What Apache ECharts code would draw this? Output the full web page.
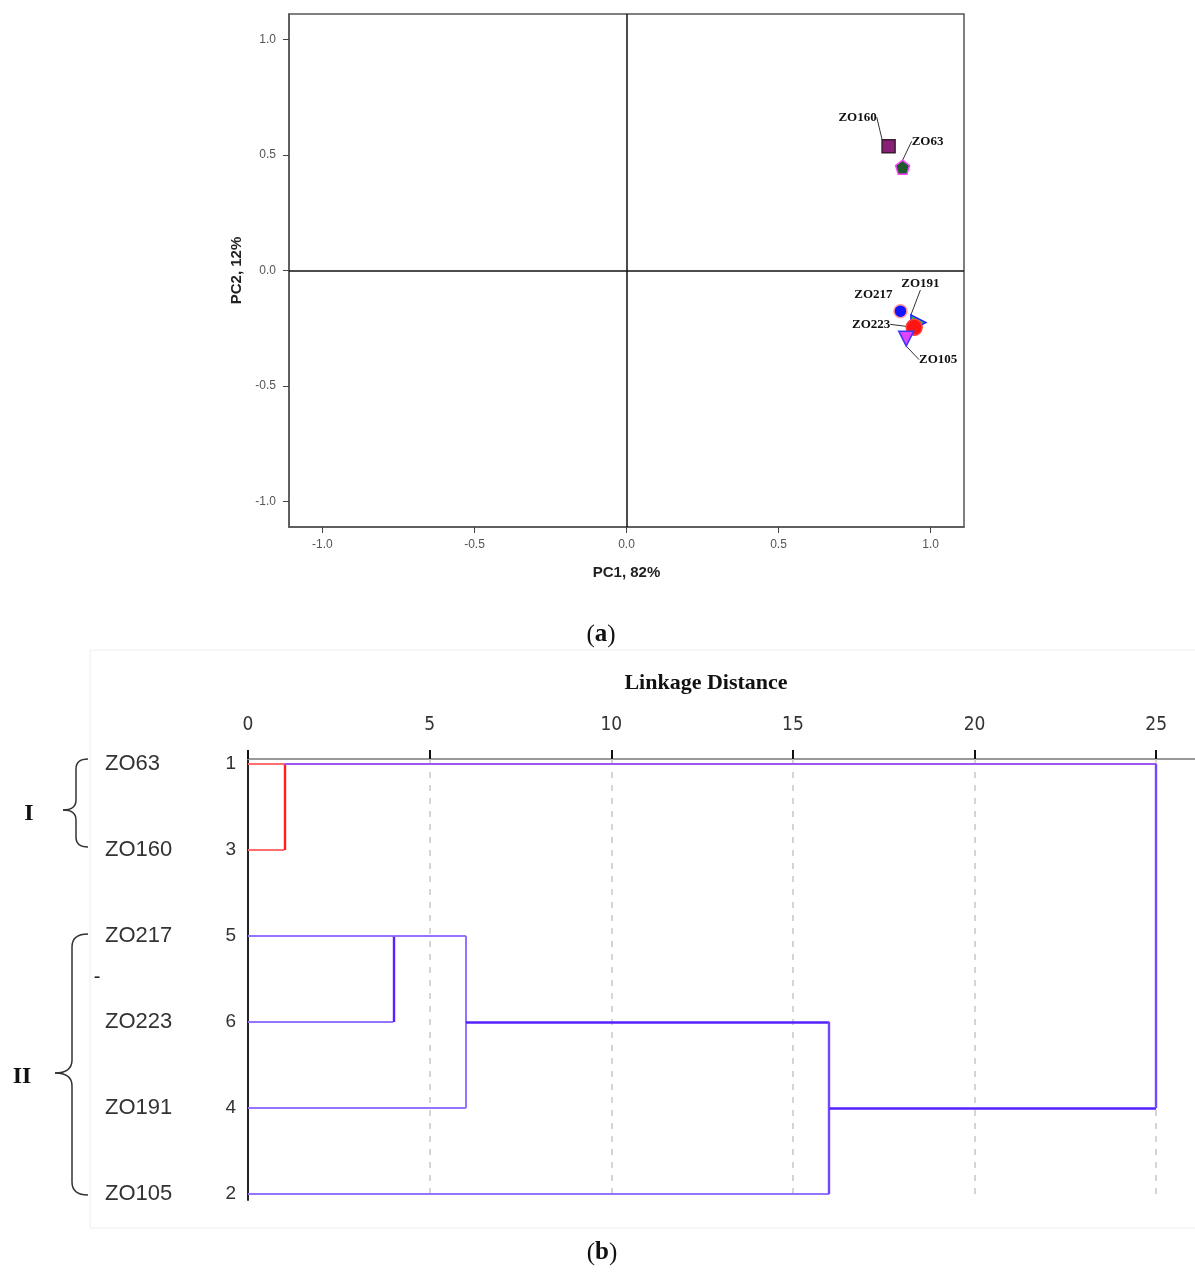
<!DOCTYPE html>
<html>
<head>
<meta charset="utf-8">
<script src="https://cdn.jsdelivr.net/npm/echarts@6/dist/echarts.min.js"></script>
<style>
  html, body { margin: 0; padding: 0; background: #fff; }
  #main { width: 1195px; height: 1272px; }
</style>
</head>
<body>
<div id="main"></div>
<script>
// (a) PCA scores
const pcNames = ['ZO160', 'ZO63', 'ZO217', 'ZO191', 'ZO223', 'ZO105']
const pc1 = [0.862, 0.908, 0.901, 0.960, 0.946, 0.920]
const pc2 = [0.538, 0.447, -0.176, -0.225, -0.246, -0.295]
const pcTicks = [-1, -0.5, 0, 0.5, 1]

// (b) dendrogram
const leafNames = ['ZO63', 'ZO160', 'ZO217', 'ZO223', 'ZO191', 'ZO105']
const leafIds = ['1', '3', '5', '6', '4', '2']
// node index: 0-5 leaves, 6+k = merge k
const mergeLeft = [0, 2, 7, 8, 6]
const mergeRight = [1, 3, 4, 5, 9]
const mergeDist = [1, 4, 6, 16, 25]
const mergeRow = [0, 2, 3, 4, null]
const distTicks = [0, 5, 10, 15, 20, 25]

// marker styles for the scatter (not data)
const pentagon = 'path://M0,-1 L0.951,-0.309 L0.588,0.809 L-0.588,0.809 L-0.951,-0.309 Z'
const markStyle = [
  { symbol: 'rect', size: 13, rotate: 0, color: '#8a1f78', border: '#3b1a33' },
  { symbol: pentagon, size: 14, rotate: 0, color: '#1d5a2c', border: '#ff44ff' },
  { symbol: 'circle', size: 13, rotate: 0, color: '#1414ff', border: '#ff9a9a' },
  { symbol: 'triangle', size: 15, rotate: -90, color: '#22c444', border: '#2222ff' },
  { symbol: 'circle', size: 16, rotate: 0, color: '#ff1414', border: '#ff4040' },
  { symbol: 'triangle', size: 15, rotate: 180, color: '#e044ff', border: '#3a3aff' }
]
const labelOffset = [[-31, -29], [25, -26], [-27, -17], [2, -39], [-43, -3], [32, 21]]

const lightRed = '#ff6e6e'
const red = '#ff1e1e'
const lightViolet = '#9474ff'
const strongViolet = '#5522ff'
const midViolet = '#7448ff'
const topPurple = '#a055f0'
const vColor = [red, strongViolet, lightViolet, midViolet, midViolet]
const hColor = (c) => {
  if (c < 6) return c < 2 ? lightRed : lightViolet
  return [topPurple, lightViolet, strongViolet, strongViolet][c - 6]
}

const nodeDist = (n) => n < 6 ? 0 : mergeDist[n - 6]
const nodeRow = (n) => n < 6 ? n : mergeRow[n - 6]

const segments = []
for (let k = 0; k < mergeDist.length; k++) {
  const d = mergeDist[k]
  const kids = [mergeLeft[k], mergeRight[k]]
  kids.forEach(c => {
    const strong = hColor(c) === strongViolet
    segments.push({
      coords: [[nodeDist(c), nodeRow(c)], [d, nodeRow(c)]],
      lineStyle: { color: hColor(c), width: strong ? 2.6 : 2, opacity: 1 }
    })
  })
  segments.push({
    coords: [[d, nodeRow(kids[0])], [d, nodeRow(kids[1])]],
    lineStyle: { color: vColor[k], width: vColor[k] === lightViolet ? 2 : 2.4, opacity: 1 }
  })
}

const scatterData = pcNames.map((n, i) => ({
  name: n,
  value: [pc1[i], pc2[i]],
  symbol: markStyle[i].symbol,
  symbolSize: markStyle[i].size,
  symbolRotate: markStyle[i].rotate,
  itemStyle: { color: markStyle[i].color, borderColor: markStyle[i].border, borderWidth: 1.5, opacity: 1 },
  labelLine: { show: n !== 'ZO217' }
}))

const rows = leafNames.map((_, i) => i)
const serif = 'Liberation Serif, Times New Roman, serif'
const sans = 'Liberation Sans, Arial, sans-serif'

// curly brace built from lines and quadratic curves
const braceStroke = { fill: 'none', stroke: '#333', lineWidth: 1.5 }
function brace(xEnd, xBar, xTip, yTop, yMid, yBot, r) {
  const q = (x1, y1, x2, y2, cx, cy) => ({
    type: 'bezierCurve', silent: true,
    shape: { x1: x1, y1: y1, x2: x2, y2: y2, cpx1: cx, cpy1: cy },
    style: braceStroke
  })
  const l = (x1, y1, x2, y2) => ({
    type: 'line', silent: true,
    shape: { x1: x1, y1: y1, x2: x2, y2: y2 },
    style: braceStroke
  })
  return [
    q(xEnd, yTop, xBar, yTop + r, xBar, yTop),
    l(xBar, yTop + r, xBar, yMid - r),
    q(xBar, yMid - r, xTip, yMid, xBar, yMid),
    q(xTip, yMid, xBar, yMid + r, xBar, yMid),
    l(xBar, yMid + r, xBar, yBot - r),
    q(xBar, yBot - r, xEnd, yBot, xBar, yBot)
  ]
}

const chart = echarts.init(document.getElementById('main'))
chart.setOption({
  animation: false,
  backgroundColor: '#fff',
  grid: [
    { left: 289, top: 14, width: 675, height: 513, show: true, borderColor: '#555', borderWidth: 1.5 },
    { left: 248, top: 759, right: 0, height: 441 }
  ],
  xAxis: [
    {
      gridIndex: 0, type: 'value', min: -1.11, max: 1.11,
      name: 'PC1, 82%', nameLocation: 'middle', nameGap: 38,
      nameTextStyle: { fontFamily: sans, fontWeight: 'bold', fontSize: 15, color: '#222' },
      axisLine: { onZero: false, lineStyle: { color: '#555', width: 1.5 } },
      axisTick: { customValues: pcTicks, length: 6, lineStyle: { color: '#444' } },
      axisLabel: { customValues: pcTicks, formatter: v => v.toFixed(1), color: '#555', fontSize: 12, fontFamily: sans, margin: 12 },
      splitLine: { show: false }
    },
    {
      gridIndex: 1, type: 'value', position: 'top', min: 0, max: 26.07,
      axisLine: { onZero: false, lineStyle: { color: '#999', width: 2 } },
      axisTick: { customValues: distTicks, length: 9, lineStyle: { color: '#111', width: 2 } },
      axisLabel: { customValues: distTicks, color: '#333', fontSize: 19, fontFamily: 'Liberation Sans Narrow, DejaVu Sans Condensed, Arial Narrow, sans-serif', margin: 24 },
      splitLine: { show: false }
    }
  ],
  yAxis: [
    {
      gridIndex: 0, type: 'value', min: -1.11, max: 1.11,
      name: 'PC2, 12%', nameLocation: 'middle', nameGap: 42, nameRotate: 90,
      nameTextStyle: { fontFamily: sans, fontWeight: 'bold', fontSize: 15, color: '#222' },
      axisLine: { onZero: false, lineStyle: { color: '#555', width: 1.5 } },
      axisTick: { customValues: pcTicks, length: 6, lineStyle: { color: '#444' } },
      axisLabel: { customValues: pcTicks, formatter: v => v.toFixed(1), color: '#555', fontSize: 12, fontFamily: sans, margin: 13 },
      splitLine: { show: false }
    },
    {
      gridIndex: 1, type: 'value', inverse: true, min: -0.058, max: 5.07, position: 'left',
      axisLine: { onZero: false, lineStyle: { color: '#222', width: 2 } },
      axisTick: { show: false },
      axisLabel: { customValues: rows, formatter: v => leafIds[v], color: '#333', fontSize: 19, fontFamily: sans, margin: 12 },
      splitLine: { show: false }
    },
    {
      gridIndex: 1, type: 'value', inverse: true, min: -0.058, max: 5.07, position: 'left', offset: 0,
      axisLine: { show: false },
      axisTick: { show: false },
      axisLabel: { customValues: rows, formatter: v => leafNames[v], align: 'left', color: '#333', fontSize: 22, fontFamily: sans, margin: 143 },
      splitLine: { show: false }
    }
  ],
  series: [
    {
      type: 'scatter',
      xAxisIndex: 0, yAxisIndex: 0,
      data: scatterData,
      label: {
        show: true, position: 'inside', formatter: '{b}',
        fontFamily: serif, fontWeight: 'bold', fontSize: 13, color: '#111'
      },
      labelLine: { show: true, lineStyle: { color: '#333', width: 1 } },
      labelLayout: p => ({ dx: labelOffset[p.dataIndex][0], dy: labelOffset[p.dataIndex][1] }),
      markLine: {
        silent: true, symbol: ['none', 'none'], label: { show: false },
        lineStyle: { color: '#111', width: 1.5, type: 'solid' },
        data: [{ xAxis: 0 }, { yAxis: 0 }]
      }
    },
    {
      type: 'line',
      xAxisIndex: 1, yAxisIndex: 1,
      data: [],
      markLine: {
        silent: true, symbol: ['none', 'none'], label: { show: false },
        lineStyle: { color: '#c8c8c8', width: 1.5, type: [6, 7] },
        data: distTicks.slice(1).map(t => ({ xAxis: t }))
      }
    },
    {
      type: 'lines',
      coordinateSystem: 'cartesian2d',
      xAxisIndex: 1, yAxisIndex: 1,
      data: segments,
      z: 5
    }
  ],
  graphic: [
    { type: 'rect', silent: true, z: -1, shape: { x: 90, y: 650, width: 1110, height: 578 }, style: { fill: 'none', stroke: '#eeeeee', lineWidth: 1 } },
    {
      type: 'text', x: 601, y: 635,
      style: {
        text: '{p|(}{b|a}{p|)}', align: 'center', verticalAlign: 'middle',
        rich: { p: { fontFamily: serif, fontSize: 25, fill: '#111' }, b: { fontFamily: serif, fontSize: 25, fontWeight: 'bold', fill: '#111' } }
      }
    },
    {
      type: 'text', x: 602, y: 1253,
      style: {
        text: '{p|(}{b|b}{p|)}', align: 'center', verticalAlign: 'middle',
        rich: { p: { fontFamily: serif, fontSize: 25, fill: '#111' }, b: { fontFamily: serif, fontSize: 25, fontWeight: 'bold', fill: '#111' } }
      }
    },
    { type: 'text', x: 706, y: 683, style: { text: 'Linkage Distance', fontFamily: serif, fontWeight: 'bold', fontSize: 22, fill: '#111', align: 'center', verticalAlign: 'middle' } },
    { type: 'text', x: 29, y: 814, style: { text: 'I', fontFamily: serif, fontWeight: 'bold', fontSize: 24, fill: '#111', align: 'center', verticalAlign: 'middle' } },
    { type: 'text', x: 22, y: 1077, style: { text: 'II', fontFamily: serif, fontWeight: 'bold', fontSize: 24, fill: '#111', align: 'center', verticalAlign: 'middle' } },
    { type: 'text', x: 97, y: 977, style: { text: '-', fontFamily: sans, fontSize: 20, fill: '#222', align: 'center', verticalAlign: 'middle' } }
  ].concat(brace(88, 76, 63, 759, 810, 847, 10), brace(88, 72, 55, 934, 1073, 1195, 13))
})
</script>
</body>
</html>
